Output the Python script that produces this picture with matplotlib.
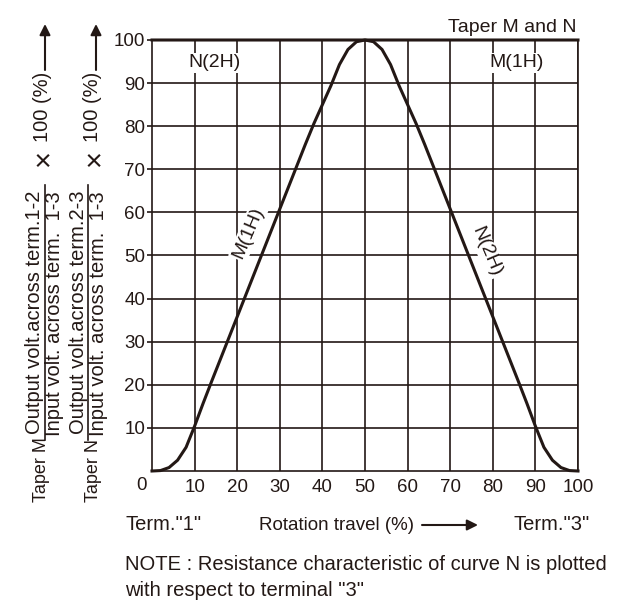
import matplotlib
matplotlib.use('Agg')
import matplotlib.pyplot as plt
from matplotlib.lines import Line2D

plt.rcParams['font.family'] = ['Liberation Sans', 'DejaVu Sans']

# rotation travel (%)
travel = [0, 2, 4, 6, 8, 10, 12, 14, 16, 18, 20, 22, 24, 26, 28, 30, 32, 34, 36, 38, 40,
          42, 44, 46, 48, 50, 52, 54, 56, 58, 60, 62, 64, 66, 68, 70, 72, 74, 76, 78, 80,
          82, 84, 86, 88, 90, 92, 94, 96, 98, 100]
# curve M(1H), output 1-2 (%)
taper_m = [0, 0.1, 0.8, 2.5, 5.5, 10.4, 15.7, 20.8, 25.8, 30.8, 35.8, 40.8, 45.8, 50.8, 55.8,
           60.8, 65.8, 70.8, 75.8, 80.6, 85.0, 89.4, 94.3, 97.8, 99.6, 100,
           100, 100, 100, 100, 100, 100, 100, 100, 100, 100, 100, 100, 100, 100, 100,
           100, 100, 100, 100, 100, 100, 100, 100, 100, 100]
# curve N(2H), output 2-3 (%)
taper_n = [100, 100, 100, 100, 100, 100, 100, 100, 100, 100, 100, 100, 100, 100, 100,
           100, 100, 100, 100, 100, 100, 100, 100, 100, 100, 100,
           99.6, 97.8, 94.3, 89.4, 85.0, 80.6, 75.8, 70.8, 65.8, 60.8, 55.8, 50.8, 45.8,
           40.8, 35.8, 30.8, 25.8, 20.8, 15.7, 10.4, 5.5, 2.5, 0.8, 0.1, 0]
ticks = [10, 20, 30, 40, 50, 60, 70, 80, 90, 100]

ink = '#231815'

fig = plt.figure(figsize=(6.4, 6.1), dpi=100)
ax = fig.add_axes([152/640, 1-471/610, 426/640, 431/610])

ax.plot(travel, taper_m, color=ink, lw=2.2, clip_on=False, zorder=5, solid_joinstyle='round')
ax.plot(travel, taper_n, color=ink, lw=2.2, clip_on=False, zorder=5, solid_joinstyle='round')

ax.set_xlim(0, 100)
ax.set_ylim(0, 100)
ax.set_xticks(ticks)
ax.set_yticks(ticks)
ax.grid(True, color=ink, lw=1.2)
for s in ax.spines.values():
    s.set_color(ink)
    s.set_linewidth(1.2)
ax.tick_params(axis='x', length=0, pad=6, labelsize=13.5, colors=ink)
ax.tick_params(axis='y', length=3.5, width=1.2, pad=1.5, labelsize=13.5, colors=ink)

def fp(x, y):
    return (x/640, 1 - y/610)

fig.text(*fp(147, 486), '0', ha='right', va='center', fontsize=13.5, color=ink)

# labels on the curves
box = dict(facecolor='white', edgecolor='none', pad=1)
ax.text(14.6, 94.7, 'N(2H)', ha='center', va='center', fontsize=14, color=ink, bbox=box, zorder=3)
ax.text(85.6, 94.7, 'M(1H)', ha='center', va='center', fontsize=14, color=ink, bbox=box, zorder=3)
ax.text(22.6, 55.2, 'M(1H)', ha='center', va='center', fontsize=14, color=ink, bbox=box,
        rotation=67, zorder=3)
ax.text(78.6, 50.9, 'N(2H)', ha='center', va='center', fontsize=14, color=ink, bbox=box,
        rotation=-67, zorder=3)
fig.text(*fp(577, 27), 'Taper M and N', ha='right', va='center', fontsize=14, color=ink)

# y label (two tapers)
fs = 14.5
fig.text(*fp(42, 470), 'Taper M', rotation=90, ha='center', va='center', fontsize=13, color=ink)
fig.text(*fp(35, 312), 'Output volt.across term.1-2', rotation=90, ha='center', va='center', fontsize=fs, color=ink)
fig.text(*fp(55, 314), 'Input volt. across term.  1-3', rotation=90, ha='center', va='center', fontsize=fs, color=ink)
fig.add_artist(Line2D([45/640, 45/640], [1-185/610, 1-440/610], color=ink, lw=1.2))
fig.text(*fp(44, 158), '×', rotation=90, ha='center', va='center', fontsize=21, color=ink)
fig.text(*fp(42, 107), '100 (%)', rotation=90, ha='center', va='center', fontsize=fs, color=ink)

fig.text(*fp(93, 470), 'Taper N', rotation=90, ha='center', va='center', fontsize=13, color=ink)
fig.text(*fp(79, 312), 'Output volt.across term.2-3', rotation=90, ha='center', va='center', fontsize=fs, color=ink)
fig.text(*fp(98, 314), 'Input volt. across term.  1-3', rotation=90, ha='center', va='center', fontsize=fs, color=ink)
fig.add_artist(Line2D([88/640, 88/640], [1-185/610, 1-440/610], color=ink, lw=1.2))
fig.text(*fp(95, 158), '×', rotation=90, ha='center', va='center', fontsize=21, color=ink)
fig.text(*fp(93, 107), '100 (%)', rotation=90, ha='center', va='center', fontsize=fs, color=ink)

arrow = dict(arrowstyle='-|>', color=ink, lw=1.5, mutation_scale=16, shrinkA=0, shrinkB=0)
for xa in (45, 96):
    ax.annotate('', xy=fp(xa, 24), xytext=fp(xa, 70), xycoords='figure fraction',
                textcoords='figure fraction', arrowprops=arrow)

# bottom texts
fig.text(*fp(125, 525), 'Term."1"', ha='left', va='center', fontsize=fs, color=ink)
fig.text(*fp(414, 525), 'Rotation travel (%)', ha='right', va='center', fontsize=13.5, color=ink)
ax.annotate('', xy=fp(478, 525), xytext=fp(422, 525), xycoords='figure fraction',
            textcoords='figure fraction', arrowprops=arrow)
fig.text(*fp(590, 525), 'Term."3"', ha='right', va='center', fontsize=fs, color=ink)
fig.text(*fp(125, 565), 'NOTE : Resistance characteristic of curve N is plotted',
         ha='left', va='center', fontsize=fs, color=ink)
fig.text(*fp(125, 590), 'with respect to terminal "3"', ha='left', va='center', fontsize=fs, color=ink)

fig.savefig('out.png', dpi=100)
